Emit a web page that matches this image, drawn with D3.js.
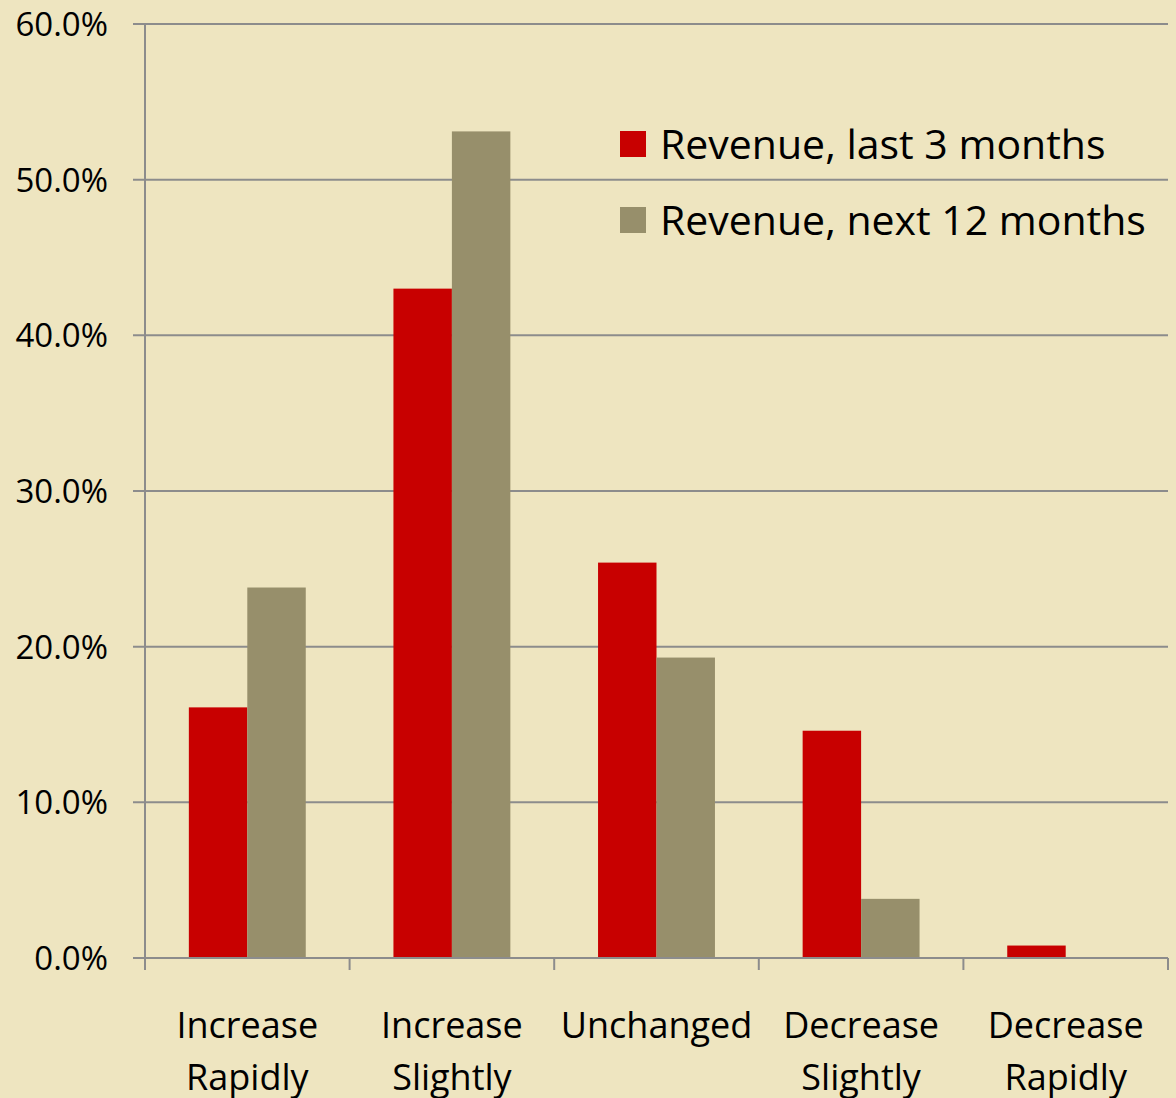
<!DOCTYPE html>
<html>
<head>
<meta charset="utf-8">
<script src="https://cdn.jsdelivr.net/npm/d3@7"></script>
<style>
  html, body { margin: 0; padding: 0; background: #EEE5C0; }
  svg { display: block; font-family: "Open Sans", sans-serif; }
</style>
</head>
<body>
<svg id="chart" width="1176" height="1098"></svg>
<script>
// Data
const categories = [
    ["Increase", "Rapidly"],
    ["Increase", "Slightly"],
    ["Unchanged"],
    ["Decrease", "Slightly"],
    ["Decrease", "Rapidly"]
];
const seriesNames = ["Revenue, last 3 months", "Revenue, next 12 months"];
const last3Months = [0.161, 0.430, 0.254, 0.146, 0.008];
const next12Months = [0.238, 0.531, 0.193, 0.038, 0.0];
const yTicks = [0, 0.1, 0.2, 0.3, 0.4, 0.5, 0.6];

const colors = ["#C80000", "#978F6B"];
const gridColor = "#8C8C8C";

const svg = d3.select('#chart');
const margin = { left: 145, right: 8, top: 24, bottom: 140 };
const width = 1176, height = 1098;

const catKeys = categories.map(c => c.join(' '));
const values = [last3Months, next12Months];

// Scales
const x0 = d3.scaleBand()
    .domain(catKeys)
    .range([margin.left, width - margin.right])
    .padding(0);

const x1 = d3.scaleBand()
    .domain(seriesNames)
    .range([0, x0.bandwidth()])
    .paddingInner(0)
    .paddingOuter(0.75);

const y = d3.scaleLinear()
    .domain([0, 0.6])
    .range([height - margin.bottom, margin.top]);

// Gridlines
svg.append('g')
    .selectAll('line')
    .data(yTicks)
    .join('line')
    .attr('x1', margin.left - 12)
    .attr('x2', width - margin.right)
    .attr('y1', d => y(d))
    .attr('y2', d => y(d))
    .attr('stroke', gridColor)
    .attr('stroke-width', 2);

// Y tick labels
svg.append('g')
    .selectAll('text')
    .data(yTicks)
    .join('text')
    .attr('x', margin.left - 37)
    .attr('y', d => y(d))
    .attr('dy', '0.36em')
    .attr('text-anchor', 'end')
    .attr('font-size', 33)
    .attr('fill', '#000')
    .text(d => d3.format('.1%')(d));

// Bars
const groups = svg.append('g')
    .selectAll('g')
    .data(catKeys)
    .join('g')
    .attr('transform', d => `translate(${x0(d)},0)`);

groups.selectAll('rect')
    .data((d, i) => seriesNames.map((s, j) => ({ series: s, value: values[j][i], color: colors[j] })))
    .join('rect')
    .attr('x', d => x1(d.series))
    .attr('width', x1.bandwidth())
    .attr('y', d => y(d.value))
    .attr('height', d => y(0) - y(d.value))
    .attr('fill', d => d.color);

// Y axis line
svg.append('line')
    .attr('x1', margin.left).attr('x2', margin.left)
    .attr('y1', y(0.6)).attr('y2', y(0))
    .attr('stroke', gridColor)
    .attr('stroke-width', 2);

// X axis line + ticks
const xAxisY = y(0);
svg.append('line')
    .attr('x1', margin.left).attr('x2', width - margin.right)
    .attr('y1', xAxisY).attr('y2', xAxisY)
    .attr('stroke', gridColor)
    .attr('stroke-width', 2);

const tickXs = catKeys.map(k => x0(k)).concat([x0(catKeys[catKeys.length - 1]) + x0.bandwidth()]);
svg.append('g')
    .selectAll('line')
    .data(tickXs)
    .join('line')
    .attr('x1', d => d).attr('x2', d => d)
    .attr('y1', xAxisY).attr('y2', xAxisY + 12)
    .attr('stroke', gridColor)
    .attr('stroke-width', 2);

// Category labels
const labels = svg.append('g')
    .selectAll('text')
    .data(categories)
    .join('text')
    .attr('x', (d, i) => x0(catKeys[i]) + x0.bandwidth() / 2)
    .attr('y', 1038)
    .attr('text-anchor', 'middle')
    .attr('font-size', 36)
    .attr('fill', '#000');

labels.selectAll('tspan')
    .data(d => d)
    .join('tspan')
    .attr('x', function() { return d3.select(this.parentNode).attr('x'); })
    .attr('dy', (d, i) => i === 0 ? 0 : 52)
    .text(d => d);

// Legend
const legend = svg.append('g')
    .attr('transform', 'translate(620,131)');

const legendItem = legend.selectAll('g')
    .data(seriesNames)
    .join('g')
    .attr('transform', (d, i) => `translate(0,${i * 76})`);

legendItem.append('rect')
    .attr('width', 26)
    .attr('height', 26)
    .attr('fill', (d, i) => colors[i]);

legendItem.append('text')
    .attr('x', 40)
    .attr('y', 28)
    .attr('font-size', 41)
    .attr('fill', '#000')
    .text(d => d);
</script>
</body>
</html>
